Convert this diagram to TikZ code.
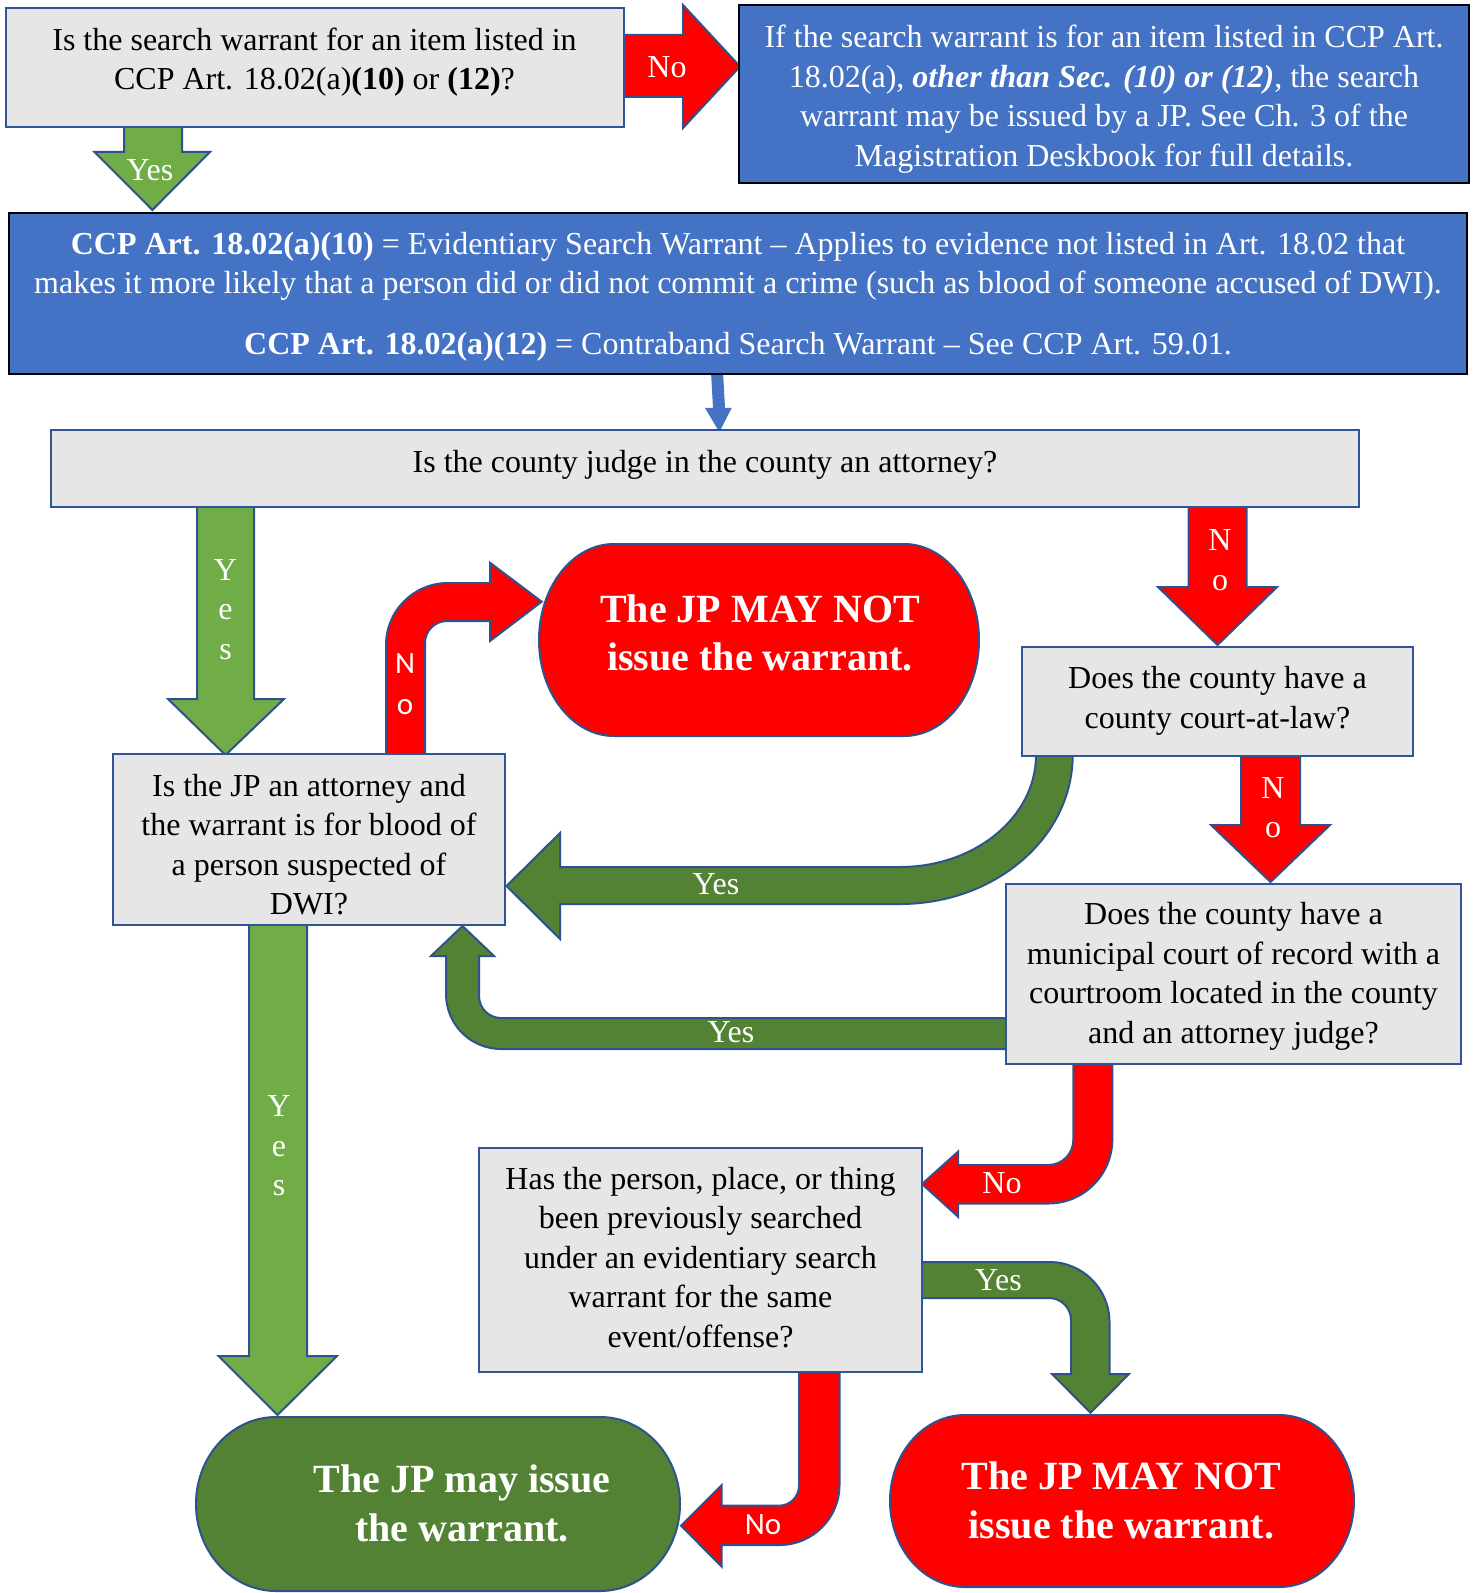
\documentclass[tikz,border=0pt]{standalone}
\usepackage{fontspec}
\setmainfont{Liberation Serif}
\newfontfamily\sansf{Carlito}
\usetikzlibrary{fit}
\definecolor{boxfill}{HTML}{E7E6E6}
\definecolor{boxline}{HTML}{2F5597}
\definecolor{arrline}{HTML}{2F528F}
\definecolor{lgreen}{HTML}{70AD47}
\definecolor{dgreen}{HTML}{548235}
\definecolor{myred}{HTML}{FF0000}
\definecolor{myblue}{HTML}{4472C4}
\tikzset{
 gbox/.style={draw=boxline, fill=boxfill, line width=1pt, inner sep=0pt},
 bbox/.style={draw=black, fill=myblue, line width=1.2pt, inner sep=0pt},
 qtext/.style={align=center, font=\fontsize{16}{19.75}\selectfont, inner sep=0pt, text=black},
 wtext/.style={qtext, text=white},
 lab/.style={text=white, font=\fontsize{16}{19.75}\selectfont, inner sep=0pt, align=center},
 slab/.style={text=white, font=\sansf\fontsize{15.5}{20.5}\selectfont, inner sep=0pt, align=center},
 termtext/.style={text=white, font=\bfseries\fontsize{20}{24.3}\selectfont, align=center, inner sep=0pt},
 rarrow/.style={fill=myred, draw=arrline, line width=1pt},
 lgarrow/.style={fill=lgreen, draw=arrline, line width=1pt},
 dgarrow/.style={fill=dgreen, draw=arrline, line width=1pt},
}
\newcommand\termshape[6]{%
 \pgfmathsetmacro\trmA{#1+#5}\pgfmathsetmacro\trmB{#3-#5}%
 \pgfmathsetmacro\trmcy{(#2+#4)/2}\pgfmathsetmacro\trmry{(#4-#2)/2}%
 \pgfmathsetmacro\trmkA{#1+#5*0.4477}\pgfmathsetmacro\trmkB{#3-#5*0.4477}%
 \pgfmathsetmacro\trmuy{\trmcy-\trmry*0.5523}\pgfmathsetmacro\trmly{\trmcy+\trmry*0.5523}%
 \draw[#6] (\trmA,#2) -- (\trmB,#2) .. controls (\trmkB,#2) and (#3,\trmuy) .. (#3,\trmcy)
  .. controls (#3,\trmly) and (\trmkB,#4) .. (\trmB,#4) -- (\trmA,#4)
  .. controls (\trmkA,#4) and (#1,\trmly) .. (#1,\trmcy)
  .. controls (#1,\trmuy) and (\trmkA,#2) .. cycle;}
\begin{document}
\begin{tikzpicture}[x=0.5pt,y=-0.5pt]
\useasboundingbox (0,0) rectangle (1476,1593);
\fill[white] (0,0) rectangle (1476,1593);
% ---- block arrows ----
\draw[rarrow] (618,35) -- (683,35) -- (683,5) -- (740,66.5) -- (683,128) -- (683,97) -- (618,97) -- cycle;
\draw[lgarrow] (124,122) -- (124,152) -- (94.5,152) -- (152.4,210) -- (210,152) -- (182,152) -- (182,122) -- cycle;
\fill[myblue] (711,372) -- (723,372) -- (725,408) -- (731.7,408) -- (719.3,432) -- (705,408) -- (713,408) -- cycle;
\draw[lgarrow] (197,505) -- (197,699) -- (168,699) -- (225.5,755) -- (284,699) -- (254,699) -- (254,505) -- cycle;
\draw[rarrow] (1188.5,505) -- (1188.5,587) -- (1158,587) -- (1217.5,645) -- (1277,587) -- (1246.5,587) -- (1246.5,505) -- cycle;
\draw[rarrow] (1241,752) -- (1241,825) -- (1211,825) -- (1270.5,882) -- (1330,825) -- (1300,825) -- (1300,752) -- cycle;
\draw[rarrow] (386,758) -- (386,645) .. controls (386,610.8) and (413.8,583) .. (448,583) -- (490,583) -- (490,562.7) -- (541.7,601.7) -- (490,641) -- (490,621) -- (447,621) .. controls (434.85,621) and (425,630.85) .. (425,643) -- (425,758) -- cycle;
\draw[dgarrow] (1036,750) -- (1036,755) .. controls (1036,816.9) and (975.1,867) .. (900,867) -- (560,867) -- (560,833) -- (506.5,886) -- (560,939) -- (560,904) -- (900,904) .. controls (995.4,904) and (1072.7,837.3) .. (1072.7,755) -- (1072.7,750) -- cycle;
\draw[dgarrow] (1010,1018) -- (501,1018) .. controls (488.85,1018) and (479,1008.15) .. (479,996) -- (479,956) -- (494,956) -- (462.5,926) -- (431,956) -- (446,956) -- (446,994) .. controls (446,1024.4) and (470.6,1049) .. (501,1049) -- (1010,1049) -- cycle;
\draw[rarrow] (1073.3,1060) -- (1073.3,1140) .. controls (1073.3,1153.8) and (1062.1,1165) .. (1048.3,1165) -- (958,1165) -- (958,1151.7) -- (922,1184) -- (958,1216.7) -- (958,1203.5) -- (1048.3,1203.5) .. controls (1083.65,1203.5) and (1112.3,1174.85) .. (1112.3,1139.5) -- (1112.3,1060) -- cycle;
\draw[dgarrow] (918,1262) -- (1049.5,1262) .. controls (1082.6,1262) and (1109.5,1288.9) .. (1109.5,1322) -- (1109.5,1374) -- (1129,1374) -- (1090.5,1412.7) -- (1052,1374) -- (1071,1374) -- (1071,1320) .. controls (1071,1307.85) and (1061.15,1298) .. (1049,1298) -- (918,1298) -- cycle;
\draw[rarrow] (799,1368) -- (799,1485.7) .. controls (799,1496.75) and (790.05,1505.7) .. (779,1505.7) -- (721.7,1505.7) -- (721.7,1485) -- (681,1525.7) -- (721.7,1566.7) -- (721.7,1545) -- (779.5,1545) .. controls (812.64,1545) and (839.5,1518.14) .. (839.5,1485) -- (839.5,1368) -- cycle;
\draw[lgarrow] (249,920) -- (249,1356) -- (218.5,1356) -- (277.5,1415) -- (337,1356) -- (307,1356) -- (307,920) -- cycle;
% ---- terminals ----
\termshape{539}{544}{979}{736}{75}{rarrow}
\termshape{196}{1417}{680}{1591}{80}{dgarrow}
\termshape{890}{1415}{1354}{1587}{75}{rarrow}
% ---- boxes ----
\node (q1) [gbox, fit={(6,8) (624,127)}] {};
\node (info) [bbox, fit={(739,5) (1469,183)}] {};
\node (defs) [bbox, fit={(9,213) (1467,374)}] {};
\node (q3) [gbox, fit={(51,430) (1359,507)}] {};
\node (q4) [gbox, fit={(1022,647) (1413,756)}] {};
\node (q2) [gbox, fit={(113,754) (505,925)}] {};
\node (q5) [gbox, fit={(1006,884) (1461,1064)}] {};
\node (q6) [gbox, fit={(479,1148) (922,1372)}] {};
% ---- texts ----
\node (q1t) [qtext] at (314.5,62) {Is the search warrant for an item listed in\\CCP Art. 18.02(a)\textbf{(10)} or \textbf{(12)}?};
\node (infot) [wtext] at (1104,99) {If the search warrant is for an item listed in CCP Art.\\18.02(a), \textbf{\textit{other than Sec. (10) or (12)}}, the search\\warrant may be issued by a JP. See Ch. 3 of the\\Magistration Deskbook for full details.};
\node (defst) [wtext] at (738,296.5) {\textbf{CCP Art. 18.02(a)(10)} = Evidentiary Search Warrant -- Applies to evidence not listed in Art. 18.02 that\\makes it more likely that a person did or did not commit a crime (such as blood of someone accused of DWI).\\[10.5pt]\textbf{CCP Art. 18.02(a)(12)} = Contraband Search Warrant -- See CCP Art. 59.01.};
\node (q3t) [qtext] at (705,465) {Is the county judge in the county an attorney?};
\node (q4t) [qtext] at (1217.5,701) {Does the county have a\\county court-at-law?};
\node (q2t) [qtext] at (309,844.5) {Is the JP an attorney and\\the warrant is for blood of\\a person suspected of\\DWI?};
\node (q5t) [qtext] at (1233.5,976.5) {Does the county have a\\municipal court of record with a\\courtroom located in the county\\and an attorney judge?};
\node (q6t) [qtext] at (700.5,1257.5) {Has the person, place, or thing\\been previously searched\\under an evidentiary search\\warrant for the same\\event/offense?};
% ---- terminal texts ----
\node (t1) [termtext] at (760,633) {The JP MAY NOT\\issue the warrant.};
\node (t2) [termtext] at (462,1503.5) {The JP may issue\\the warrant.};
\node (t3) [termtext] at (1121.5,1500.5) {The JP MAY NOT\\issue the warrant.};
% ---- arrow labels ----
\node (l1) [lab] at (667,67) {No};
\node (l2) [lab] at (150,170) {Yes};
\node (l3) [lab] at (225.5,609.5) {Y\\e\\s};
\node (l4) [lab] at (1220,560) {N\\o};
\node (l5) [lab] at (1273,807.5) {N\\o};
\node (l6) [slab] at (405,684.5) {N\\o};
\node (l7) [lab] at (716,884) {Yes};
\node (l8) [lab] at (731,1032) {Yes};
\node (l9) [lab] at (1002,1183) {No};
\node (l10) [lab] at (998.5,1280) {Yes};
\node (l11) [slab] at (763,1525) {No};
\node (l12) [lab] at (279,1146) {Y\\e\\s};
\end{tikzpicture}
\end{document}
